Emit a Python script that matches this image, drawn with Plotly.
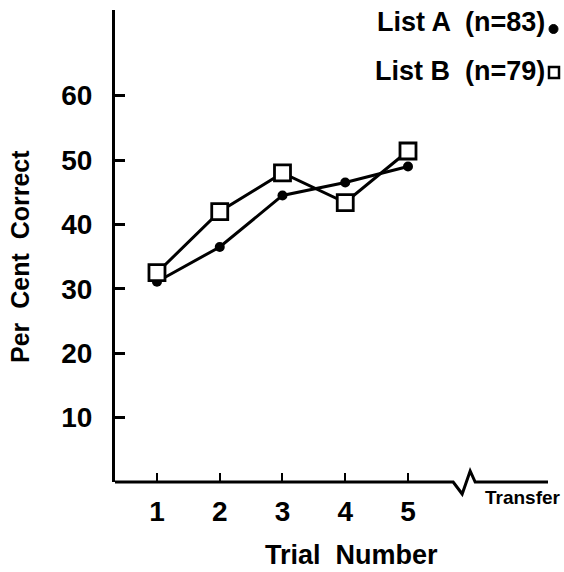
import plotly.graph_objects as go

trials = [1, 2, 3, 4, 5]
list_a = [31.1, 36.5, 44.5, 46.5, 49.0]
list_b = [32.5, 42.0, 48.0, 43.4, 51.4]
y_ticks = [10, 20, 30, 40, 50, 60]
x_ticks = [1, 2, 3, 4, 5]
legend_a = "List A  (n=83)"
legend_b = "List B  (n=79)"

W, H = 564, 572
ML, MR, MT, MB = 115, 16, 10, 90
PW, PH = W - ML - MR, H - MT - MB
XR = [0.331, 7.231]
YR = [0, 73.3]
FONT = "Liberation Sans"


def px_x(px):
    return (px - ML) / PW


def px_y(py):
    return (H - MB - py) / PH


def dx(v):
    return (v - XR[0]) / (XR[1] - XR[0])


fig = go.Figure()
fig.add_trace(go.Scatter(
    x=trials, y=list_a, mode="lines+markers",
    line=dict(color="black", width=3),
    marker=dict(symbol="circle", size=10, color="black"),
    showlegend=False, cliponaxis=False))
fig.add_trace(go.Scatter(
    x=trials, y=list_b, mode="lines+markers",
    line=dict(color="black", width=3),
    marker=dict(symbol="square", size=16, color="white",
                line=dict(color="black", width=2.8)),
    showlegend=False, cliponaxis=False))

# x axis line with break
xb = dx(5.72)
k = 1 / PW
kv = 1 / PH
path = (f"M 0 0 L {xb} 0 L {xb + 9 * k} {-12 * kv} "
        f"L {xb + 17 * k} {11 * kv} L {xb + 22 * k} 0 L 1 0")
shapes = [dict(type="path", path=path, xref="paper", yref="paper",
               line=dict(color="black", width=3))]
# legend markers
shapes.append(dict(type="circle", xref="paper", yref="paper",
                   x0=px_x(549), x1=px_x(558), y0=px_y(33.5), y1=px_y(24.5),
                   fillcolor="black", line=dict(color="black", width=1)))
shapes.append(dict(type="rect", xref="paper", yref="paper",
                   x0=px_x(549), x1=px_x(559), y0=px_y(78), y1=px_y(67),
                   fillcolor="white", line=dict(color="black", width=2.5)))


def ann(text, x, y, size, xanchor="center", angle=0):
    return dict(text=text, x=px_x(x), y=px_y(y), xref="paper", yref="paper",
                xanchor=xanchor, yanchor="middle", textangle=angle,
                showarrow=False,
                font=dict(family=FONT, size=size, color="black",
                          weight="bold"))


annotations = [
    ann("Per  Cent  Correct", 20, 257, 25, angle=-90),
    ann("Trial  Number", 351, 555, 27),
    ann("Transfer", 523, 497, 19),
    ann(legend_a, 547, 22, 27, xanchor="right"),
    ann(legend_b, 547, 71, 27, xanchor="right"),
]

tickfont = dict(family=FONT, size=28, color="black", weight="bold")

fig.update_layout(
    width=W, height=H,
    margin=dict(l=ML, r=MR, t=MT, b=MB),
    plot_bgcolor="white", paper_bgcolor="white",
    shapes=shapes, annotations=annotations,
    xaxis=dict(range=XR, tickvals=x_ticks, ticktext=[str(v) for v in x_ticks],
               showline=False, showgrid=False, zeroline=False,
               ticks="inside", ticklen=9, tickwidth=2, tickcolor="black",
               ticklabelstandoff=10, tickfont=tickfont),
    yaxis=dict(range=YR, tickvals=y_ticks, showline=True, linecolor="black",
               linewidth=3, showgrid=False, zeroline=False,
               ticks="inside", ticklen=10, tickwidth=2.5, tickcolor="black",
               ticklabelstandoff=14, tickfont=tickfont),
)

fig.write_html("out.html", config={"displayModeBar": False},
               post_script="document.body.style.margin='0';"
                           "document.body.style.overflow='hidden';")
